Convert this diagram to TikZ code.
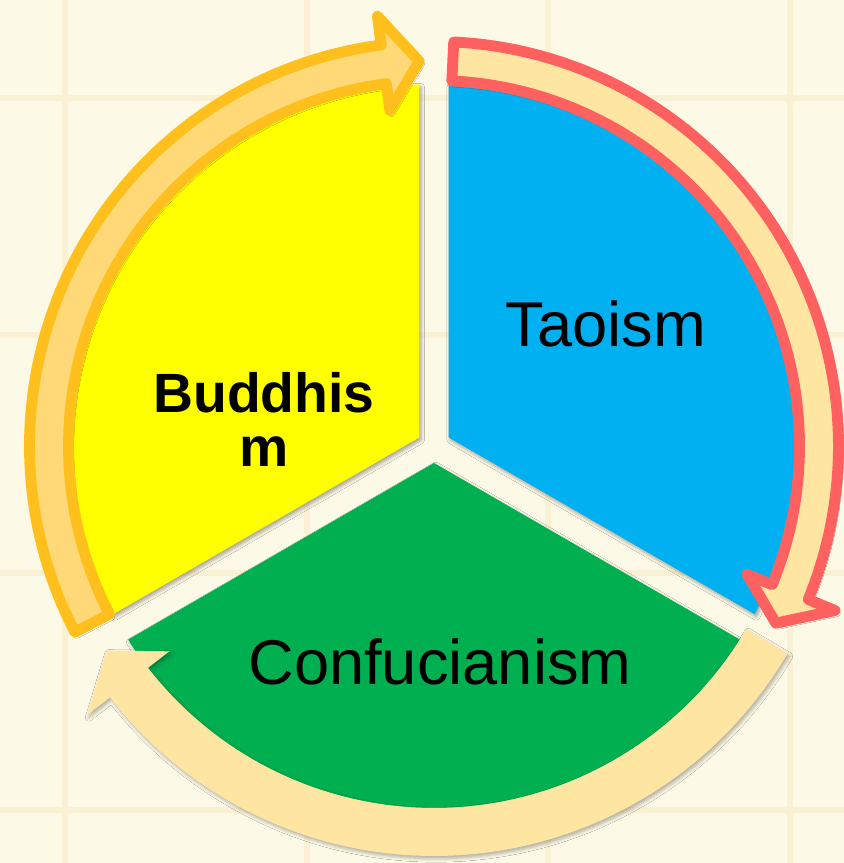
\documentclass[tikz,border=0pt]{standalone}
\usepackage{fontspec}
\setmainfont{Liberation Sans}
\usetikzlibrary{calc,shadows.blur}
\definecolor{PaperCream}{RGB}{253,249,231}
\definecolor{GridCream}{RGB}{250,241,213}
\definecolor{SegYellow}{RGB}{255,255,0}
\definecolor{SegBlue}{RGB}{0,176,240}
\definecolor{SegGreen}{RGB}{0,176,80}
\definecolor{BandGold}{RGB}{255,217,120}
\definecolor{EdgeGold}{RGB}{255,192,30}
\definecolor{BandSand}{RGB}{255,229,162}
\definecolor{EdgeCoral}{RGB}{255,97,97}

% curved band with a straight head: style, start, head base, tip, inner r, outer r
\newcommand{\cyclearrow}[6]{%
  \path[#1] ($(C)+(#2:#6)$) arc[start angle=#2,end angle=#3,radius=#6]
    -- ($(C)+(#3:{#6+29})$) -- ($(C)+(#4:{(#5+#6)/2})$)
    -- ($(C)+(#3:{#5-27})$) -- ($(C)+(#3:#5)$)
    arc[start angle=#3,end angle=#2,radius=#5] -- cycle;}

\begin{document}
\begin{tikzpicture}[x=0.02cm,y=0.02cm,
    gridline/.style={GridCream,line width=3.5pt},
    seg/.style={blur shadow={shadow xshift=1pt,shadow yshift=-1.5pt,
                shadow blur radius=2pt,shadow opacity=35}},
    band/.style={line width=6.2pt,line join=round,
                 blur shadow={shadow xshift=1pt,shadow yshift=-1.5pt,
                 shadow blur radius=2pt,shadow opacity=30}},
    lbl/.style={font=\fontsize{36}{40}\selectfont,inner sep=0pt},
    budlbl/.style={font=\bfseries\fontsize{31.5}{36}\selectfont,inner sep=0pt}
  ]
  \fill[PaperCream] (0,0) rectangle (844,863);
  \useasboundingbox (0,0) rectangle (844,863);
  \foreach \gx in {65,307,548,790}
    \draw[gridline] (\gx,0) -- (\gx,863);
  \foreach \gy in {53,290,528,765}
    \draw[gridline] (0,\gy) -- (844,\gy);

  \coordinate (C) at (434,417);
  \coordinate (Yc) at ($(C)+(150:17)$);
  \coordinate (Bc) at ($(C)+(30:17)$);
  \coordinate (Gc) at ($(C)+(270:17)$);

  % the three segments
  \path[seg,fill=SegYellow] (Yc) -- ($(C)+(92.33:362)$)
    arc[start angle=92.33,end angle=207.67,radius=362] -- cycle;
  \path[seg,fill=SegBlue] (Bc) -- ($(C)+(87.67:362)$)
    arc[start angle=87.67,end angle=-27.67,radius=362] -- cycle;
  \path[seg,fill=SegGreen] (Gc) -- ($(C)+(212.33:362)$)
    arc[start angle=212.33,end angle=327.67,radius=362] -- cycle;

  % cycle arrows
  \cyclearrow{band,fill=BandSand,line width=0pt}{-30.4}{-142.2}{-148}{362}{410}
  \cyclearrow{band,fill=BandGold,draw=EdgeGold}{207.4}{97.5}{92.2}{365.5}{404.5}
  \cyclearrow{band,fill=BandSand,draw=EdgeCoral}{87.2}{-22.3}{-27.4}{365.5}{404.5}

  % labels
  \node[lbl,anchor=base] (tao) at (606,516) {Taoism};
  \node[lbl,anchor=base] (conf) at (440,178) {Confucianism};
  \node[budlbl,anchor=base] (bud) at (264,450) {Buddhis};
  \node[budlbl,anchor=base] (budm) at (264,396) {m};
\end{tikzpicture}
\end{document}
